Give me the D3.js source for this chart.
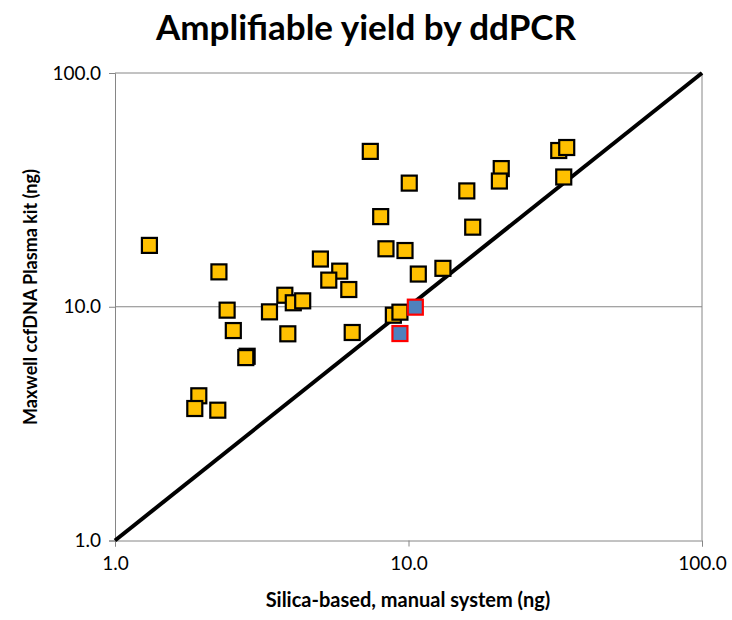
<!DOCTYPE html>
<html>
<head>
<meta charset="utf-8">
<script src="https://cdn.jsdelivr.net/npm/d3@7"></script>
<style>
  body { margin: 0; background: #fff; }
  svg text { font-family: Lato, "Open Sans", sans-serif; }
</style>
</head>
<body>
<svg id="chart" width="732" height="620"></svg>
<script>
// silica-based (x) vs Maxwell (y), ng
var silica = [1.31, 7.41, 10.06, 8.04, 8.38, 9.73, 2.26, 5.01, 5.83, 5.35, 6.26, 10.8,
  3.79, 4.05, 4.36, 2.41, 3.36, 2.53, 3.88, 6.43, 8.88, 9.35, 2.82, 2.79, 1.93, 1.87,
  2.24, 32.5, 34.6, 33.8, 20.7, 20.4, 15.8, 16.55, 13.1];
var maxwell = [18.3, 46.2, 33.8, 24.3, 17.7, 17.4, 14.1, 16.0, 14.2, 13.0, 11.85, 13.8,
  11.2, 10.4, 10.6, 9.67, 9.51, 7.91, 7.66, 7.76, 9.2, 9.48, 6.14, 6.06, 4.16, 3.67,
  3.61, 46.6, 48.0, 35.9, 39.0, 34.5, 31.3, 21.9, 14.6];
// highlighted samples
var silicaHi = [10.55, 9.35];
var maxwellHi = [9.96, 7.68];
var tickVals = [1, 10, 100];

var svg = d3.select("#chart");
var pLeft = 115, pRight = 702, pTop = 73, pBottom = 540.5;

var x = d3.scaleLog().domain([1, 100]).range([pLeft, pRight]);
var y = d3.scaleLog().domain([1, 100]).range([pBottom, pTop]);

// title
svg.append("text")
    .attr("x", 366).attr("y", 40)
    .attr("text-anchor", "middle")
    .attr("font-size", 35).attr("font-weight", "bold")
    .text("Amplifiable yield by ddPCR");

// gridlines + frame
svg.append("g").selectAll("line")
    .data([10, 100])
    .join("line")
    .attr("x1", pLeft).attr("x2", pRight)
    .attr("y1", d => y(d)).attr("y2", d => y(d))
    .attr("stroke", "#868686").attr("stroke-width", 1);

svg.append("line")
    .attr("x1", pRight).attr("x2", pRight).attr("y1", pTop).attr("y2", pBottom)
    .attr("stroke", "#868686");

// axes
var xAxis = svg.append("g")
    .attr("transform", "translate(0," + pBottom + ")")
    .call(d3.axisBottom(x).tickValues(tickVals).tickFormat(d3.format(".1f")).tickSize(6).tickPadding(10));
var yAxis = svg.append("g")
    .attr("transform", "translate(" + pLeft + ",0)")
    .call(d3.axisLeft(y).tickValues(tickVals).tickFormat(d3.format(".1f")).tickSize(6).tickPadding(8));

[xAxis, yAxis].forEach(function (a) {
    a.select(".domain").attr("stroke", "#868686");
    a.selectAll(".tick line").attr("stroke", "#868686");
    a.selectAll(".tick text").attr("font-size", 19).attr("fill", "#000")
        .style("font-family", "Lato, sans-serif");
});

// axis titles
svg.append("text")
    .attr("x", 408).attr("y", 607)
    .attr("text-anchor", "middle")
    .attr("font-size", 20).attr("font-weight", "bold")
    .text("Silica-based, manual system (ng)");

svg.append("text")
    .attr("transform", "translate(37,297) rotate(-90)")
    .attr("text-anchor", "middle")
    .attr("font-size", 18).attr("font-weight", "bold")
    .text("Maxwell ccfDNA Plasma kit (ng)");

// identity line
svg.append("line")
    .attr("x1", x(1)).attr("y1", y(1))
    .attr("x2", x(100)).attr("y2", y(100))
    .attr("stroke", "#000").attr("stroke-width", 4);

var sz = 15;
var pts = silica.map((d, i) => ({ x: d, y: maxwell[i] }));
svg.append("g").selectAll("rect")
    .data(pts)
    .join("rect")
    .attr("x", d => x(d.x) - sz / 2)
    .attr("y", d => y(d.y) - sz / 2)
    .attr("width", sz).attr("height", sz)
    .attr("fill", "#FFC000")
    .attr("stroke", "#000").attr("stroke-width", 2.2);

var hi = silicaHi.map((d, i) => ({ x: d, y: maxwellHi[i] }));
svg.append("g").selectAll("rect")
    .data(hi)
    .join("rect")
    .attr("x", d => x(d.x) - sz / 2)
    .attr("y", d => y(d.y) - sz / 2)
    .attr("width", sz).attr("height", sz)
    .attr("fill", "#4F81BD")
    .attr("stroke", "#FF0000").attr("stroke-width", 2.2);
</script>
</body>
</html>
